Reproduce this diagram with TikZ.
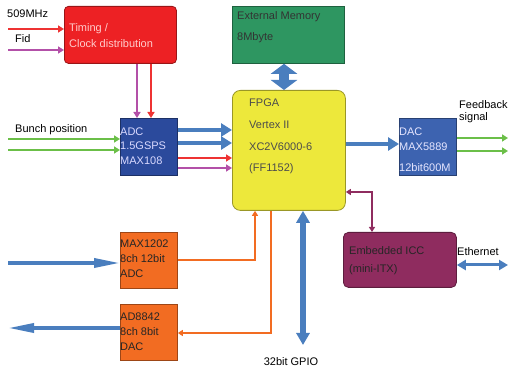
\documentclass[tikz,border=0pt]{standalone}
\usepackage{fontspec}
\setmainfont{Liberation Sans}
\usetikzlibrary{arrows.meta}
\definecolor{timingred}{HTML}{ED2124}
\definecolor{clkred}{HTML}{EE3333}
\definecolor{fidpurple}{HTML}{B350A8}
\definecolor{bunchgreen}{HTML}{6BBF48}
\definecolor{arrowblue}{HTML}{4A7EBE}
\definecolor{adcblue}{HTML}{2B4A9C}
\definecolor{dacblue}{HTML}{3D63B0}
\definecolor{fpgayellow}{HTML}{EDE83B}
\definecolor{memgreen}{HTML}{2E9661}
\definecolor{iccmaroon}{HTML}{8F2C5F}
\definecolor{ioorange}{HTML}{F26C22}
\tikzset{%
  blk/.style={anchor=north west, inner sep=0pt, draw=#1!65!black, fill=#1, line width=0.8pt},
  lbl/.style={anchor=west, inner sep=0pt, font=\fontsize{11}{13}\selectfont},
  sig/.style={line width=2pt, -{Triangle[length=6pt,width=7pt]}},
  fine/.style={line width=1.5pt, -{Triangle[length=5pt,width=6pt]}},
  fat/.style={draw=arrowblue, line width=4pt, -{Triangle[length=11pt,width=13pt]}},
  slim/.style={draw=arrowblue, line width=3.5pt, -{Triangle[length=26pt,width=9pt]}},
}
\begin{document}
\begin{tikzpicture}[x=1pt,y=-1pt]
  \useasboundingbox (0,0) rectangle (509,371);
  % blocks
  \node[blk=timingred, rounded corners=4pt, minimum width=112pt, minimum height=57pt] (timing) at (64,6) {};
  \node[blk=memgreen, minimum width=112pt, minimum height=57pt] (mem) at (232,6) {};
  \node[blk=fpgayellow, rounded corners=8pt, minimum width=113pt, minimum height=120pt] (fpga) at (232,90) {};
  \node[blk=adcblue, minimum width=57pt, minimum height=57pt] (adc) at (120,118) {};
  \node[blk=dacblue, minimum width=57pt, minimum height=57pt] (dac) at (399,118) {};
  \node[blk=ioorange, minimum width=57pt, minimum height=56pt] (slowadc) at (120,232) {};
  \node[blk=ioorange, minimum width=57pt, minimum height=56pt] (slowdac) at (120,304) {};
  \node[blk=iccmaroon, rounded corners=5pt, minimum width=113pt, minimum height=55pt] (icc) at (343,232) {};
  % texts
  \node[lbl, text=red!20] (timingA) at (69,29) {Timing /};
  \node[lbl, text=red!20] (timingB) at (69,44) {Clock distribution};
  \node[lbl] (clklbl) at (7,14) {509MHz};
  \node[lbl] (fidlbl) at (15,39) {Fid};
  \node[lbl] (bunchlbl) at (15,130) {Bunch position};
  \node[lbl, text=blue!15] (adcA) at (120,132) {ADC};
  \node[lbl, text=blue!15] (adcB) at (120,146) {1.5GSPS};
  \node[lbl, text=blue!15] (adcC) at (120,161) {MAX108};
  \node[lbl, text=black!70] (fpgaA) at (249,103) {FPGA};
  \node[lbl, text=black!70] (fpgaB) at (249,125) {Vertex II};
  \node[lbl, text=black!70] (fpgaC) at (249,147) {XC2V6000-6};
  \node[lbl, text=black!70] (fpgaD) at (249,169) {(FF1152)};
  \node[lbl, text=black!80] (memA) at (237,17) {External Memory};
  \node[lbl, text=black!80] (memB) at (237,38) {8Mbyte};
  \node[lbl, text=blue!10] (dacA) at (399,132) {DAC};
  \node[lbl, text=blue!10] (dacB) at (399,147) {MAX5889};
  \node[lbl, text=blue!10] (dacC) at (399,168) {12bit600M};
  \node[lbl] (fbA) at (459,105) {Feedback};
  \node[lbl] (fbB) at (459,118) {signal};
  \node[lbl, text=black!85] (iccA) at (349,251) {Embedded ICC};
  \node[lbl, text=black!85] (iccB) at (349,270) {(mini-ITX)};
  \node[lbl] (ethlbl) at (457,252) {Ethernet};
  \node[lbl, text=black!85] (sadcA) at (120,244) {MAX1202};
  \node[lbl, text=black!85] (sadcB) at (120,259) {8ch 12bit};
  \node[lbl, text=black!85] (sadcC) at (120,274) {ADC};
  \node[lbl, text=black!85] (sdacA) at (120,317) {AD8842};
  \node[lbl, text=black!85] (sdacB) at (120,332) {8ch 8bit};
  \node[lbl, text=black!85] (sdacC) at (120,347) {DAC};
  \node[lbl, anchor=center] (gpiolbl) at (291,362) {32bit GPIO};
  % free ends
  \coordinate (clkin) at (8,29);
  \coordinate (fidin) at (8,50);
  \coordinate (bunchA) at (8,139);
  \coordinate (bunchB) at (8,150);
  \coordinate (fbout) at (508,138);
  \coordinate (fbout2) at (508,151);
  \coordinate (iccbend) at (372,192);
  \coordinate (ethout) at (508,265);
  \coordinate (gpioout) at (303,345);
  \coordinate (anain) at (8,263);
  \coordinate (anaout) at (8,328);
  % connectors
  \draw[sig, clkred] (clkin) -- (clkin -| timing.west);
  \draw[sig, fidpurple] (fidin) -- (fidin -| timing.west);
  \draw[sig, fidpurple] (timing.south -| 137,0) -- (adc.north -| 137,0);
  \draw[sig, clkred] (timing.south -| 151,0) -- (adc.north -| 151,0);
  \draw[sig, bunchgreen] (bunchA) -- (bunchA -| adc.west);
  \draw[sig, bunchgreen] (bunchB) -- (bunchB -| adc.west);
  \draw[fat] (adc.east |- 0,130) -- (fpga.west |- 0,130);
  \draw[fat] (adc.east |- 0,143) -- (fpga.west |- 0,143);
  \draw[sig, clkred] (adc.east |- 0,158) -- (fpga.west |- 0,158);
  \draw[sig, fidpurple] (adc.east |- 0,168) -- (fpga.west |- 0,168);
  \draw[draw=arrowblue, line width=10pt, {Triangle[length=10pt,width=26pt]}-{Triangle[length=10pt,width=26pt]}]
    (mem.south -| 284,0) -- (fpga.north -| 284,0);
  \draw[fat] (fpga.east |- 0,144) -- (dac.west |- 0,144);
  \draw[sig, bunchgreen] (dac.east |- fbout) -- (fbout);
  \draw[sig, bunchgreen] (dac.east |- fbout2) -- (fbout2);
  \draw[fine, iccmaroon, {Triangle[length=5pt,width=6pt]}-{Triangle[length=5pt,width=6pt]}]
    (fpga.east |- iccbend) -- (iccbend) -- (icc.north -| iccbend);
  \draw[draw=arrowblue, line width=3pt, {Triangle[length=9pt,width=10pt]}-{Triangle[length=9pt,width=10pt]}]
    (icc.east |- ethout) -- (ethout);
  \draw[draw=arrowblue, line width=6pt, {Triangle[length=12pt,width=13pt]}-{Triangle[length=12pt,width=13pt]}]
    (fpga.south -| gpioout) -- (gpioout);
  \draw[slim] (anain) -- (anain -| slowadc.west);
  \draw[slim] (slowdac.west |- anaout) -- (anaout);
  \draw[fine, ioorange] (slowadc.east |- 0,260) -| (fpga.south -| 255,0);
  \draw[fine, ioorange] (fpga.south -| 271,0) |- (slowdac.east |- 0,333);
\end{tikzpicture}
\end{document}
